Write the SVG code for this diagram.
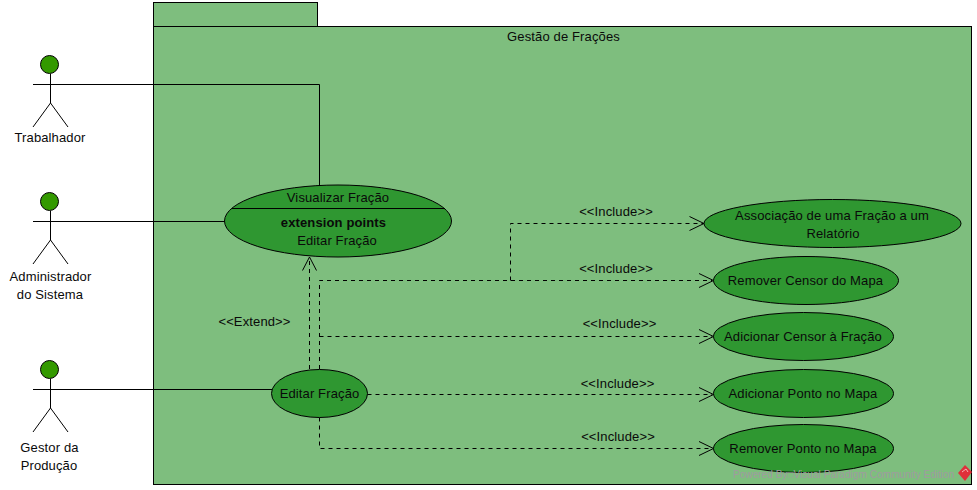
<svg xmlns="http://www.w3.org/2000/svg" width="977" height="490" viewBox="0 0 977 490">
<style>
text{font-family:"Liberation Sans",Arial,sans-serif;font-size:13px;letter-spacing:.13px;fill:#0a0a0a;text-anchor:middle}
.pkg{fill:#7ebe7e;stroke:#000;stroke-width:1}
.uc{fill:#2f9731;stroke:#000;stroke-width:1}
.line{fill:none;stroke:#000;stroke-width:1}
.dash{fill:none;stroke:#000;stroke-width:1;stroke-dasharray:4 4}
.arrow{fill:none;stroke:#000;stroke-width:1}
.head{fill:#339900;stroke:#000;stroke-width:1}
</style>
<rect width="977" height="490" fill="#fff"/>
<g id="package">
<rect class="pkg" x="153.5" y="2.5" width="164" height="24"/>
<rect class="pkg" x="153.5" y="26.5" width="818" height="458"/>
<text x="563.500" y="41">Gestão de Frações</text>
</g>
<g id="connectors">
<path class="line" d="M68 84.5H319.5V185"/>
<path class="line" d="M68 221.5H224.5"/>
<path class="line" d="M68 389.5H272"/>
<path class="dash" d="M309.5 369V258"/>
<path class="arrow" d="M302.5 270.500L309.500 257L316.500 270.500"/>
<path class="dash" d="M319.500 369V280.500H712"/>
<path class="dash" d="M510.500 280.500V223.500H703"/>
<path class="dash" d="M319.500 336.500H712"/>
<path class="dash" d="M367.500 394.500H712"/>
<path class="dash" d="M319.500 417.500V448.500H712"/>
<path class="arrow" d="M689.500 216.500L704 223.500L689.500 230.500"/>
<path class="arrow" d="M699 273.500L713.500 280.500L699 287.500"/>
<path class="arrow" d="M699 329.500L713.500 336.500L699 343.500"/>
<path class="arrow" d="M699 387.500L713.500 394.500L699 401.500"/>
<path class="arrow" d="M699 441.500L713.500 448.500L699 455.500"/>
<text x="254.500" y="326">&lt;&lt;Extend&gt;&gt;</text>
<text x="616" y="216">&lt;&lt;Include&gt;&gt;</text>
<text x="616" y="273">&lt;&lt;Include&gt;&gt;</text>
<text x="619.500" y="328">&lt;&lt;Include&gt;&gt;</text>
<text x="617.500" y="388">&lt;&lt;Include&gt;&gt;</text>
<text x="618" y="441">&lt;&lt;Include&gt;&gt;</text>
</g>
<g id="actor-trabalhador">
<circle class="head" cx="49.500" cy="64.500" r="9"/>
<path class="line" d="M50.500 74V103M33 84.500H68M33 127L50.500 103L68 127"/>
<text x="50" y="142">Trabalhador</text>
</g>
<g id="actor-administrador">
<circle class="head" cx="49.500" cy="201.500" r="9"/>
<path class="line" d="M50.500 211V240M33 221.500H68M33 264L50.500 240L68 264"/>
<text x="50.500" y="281">Administrador</text>
<text x="50" y="299">do Sistema</text>
</g>
<g id="actor-gestor">
<circle class="head" cx="49.500" cy="369.500" r="9"/>
<path class="line" d="M50.500 379V408M33 389.500H68M33 432L50.500 408L68 432"/>
<text x="49.500" y="452">Gestor da</text>
<text x="49" y="470">Produção</text>
</g>
<g id="uc-visualizar">
<ellipse class="uc" cx="338" cy="221" rx="113.500" ry="36"/>
<path class="line" d="M232 208.500H445"/>
<text x="338" y="202">Visualizar Fração</text>
<text x="333.500" y="227" style="font-weight:bold">extension points</text>
<text x="337" y="245">Editar Fração</text>
</g>
<g id="uc-editar">
<ellipse class="uc" cx="319.500" cy="393.500" rx="48" ry="24"/>
<text x="319.500" y="398">Editar Fração</text>
</g>
<g id="uc-associacao">
<ellipse class="uc" cx="832.500" cy="223.500" rx="128.500" ry="24"/>
<text x="832" y="220">Associação de uma Fração a um</text>
<text x="833" y="238">Relatório</text>
</g>
<g id="uc-remover-censor">
<ellipse class="uc" cx="806" cy="280.500" rx="92.500" ry="24"/>
<text x="805.500" y="285">Remover Censor do Mapa</text>
</g>
<g id="uc-adicionar-censor">
<ellipse class="uc" cx="803.500" cy="336.500" rx="90" ry="24"/>
<text x="803" y="341">Adicionar Censor à Fração</text>
</g>
<g id="uc-adicionar-ponto">
<ellipse class="uc" cx="803.500" cy="393.500" rx="90" ry="24"/>
<text x="803" y="398">Adicionar Ponto no Mapa</text>
</g>
<g id="uc-remover-ponto">
<ellipse class="uc" cx="803.500" cy="448.500" rx="90" ry="24"/>
<text x="803" y="453">Remover Ponto no Mapa</text>
</g>
<g id="watermark">
<text x="733" y="477.500" style="text-anchor:start;font-size:10.100px;letter-spacing:0;fill:#a09aa0">Powered By□Visual Paradigm Community Edition</text>
<path d="M965 465L972 472L965 481L958 473Z" fill="#e0303a"/>
<path d="M962 472L966 469L968 472" fill="none" stroke="#f5b5b5" stroke-width="1"/>
</g>
</svg>
